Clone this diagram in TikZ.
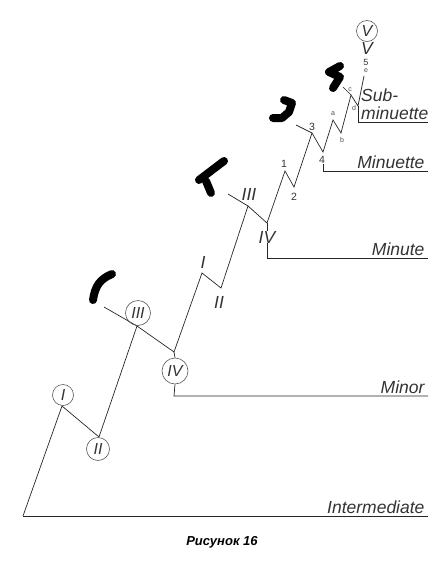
\documentclass[tikz,border=0pt]{standalone}
\usepackage{fontspec}
\setmainfont{Liberation Sans}
\begin{document}
\begin{tikzpicture}[x=1pt,y=-1pt,
  wave/.style={line width=0.7pt,draw=black!85},
  circ/.style={circle,draw=black!65,line width=0.6pt,inner sep=0pt,minimum size=#1},
  roman/.style={font=\fontsize{16}{16}\selectfont\itshape,text=black!80},
  degree/.style={font=\fontsize{17.5}{18}\selectfont\itshape,text=black!80},
  numlbl/.style={font=\fontsize{10.5}{10.5}\selectfont,text=black!80,inner sep=0pt},
  letlbl/.style={font=\fontsize{7}{7}\selectfont,text=black!70,inner sep=0pt},
  scrib/.style={line width=8pt,line cap=round,line join=round}]
  \useasboundingbox (0,0) rectangle (447,563);
  % wave points
  \coordinate (w0) at (23,516);
  \coordinate (w1) at (62,406);
  \coordinate (w2) at (99,437);
  \coordinate (w3) at (137,326);
  \coordinate (w4) at (174,352);
  \coordinate (t3) at (104,307);
  \coordinate (m1) at (202,273);
  \coordinate (m2) at (221,288);
  \coordinate (m3) at (248,206);
  \coordinate (m4) at (267,223);
  \coordinate (mt) at (228,194);
  \coordinate (n1) at (285,171);
  \coordinate (n2) at (294,187);
  \coordinate (n3) at (312,133);
  \coordinate (n4) at (323,152);
  \coordinate (nt) at (296,125);
  \coordinate (sa) at (333,120);
  \coordinate (sb) at (341,133);
  \coordinate (sc) at (351,95);
  \coordinate (sd) at (358,106);
  \coordinate (se) at (364,76);
  \coordinate (st) at (343,87);
  % degree lines end
  \coordinate (kInt) at (428,516);
  \coordinate (kMinor) at (174,396);
  \coordinate (kMinute) at (267,258);
  \coordinate (kMinuette) at (323,171);
  \coordinate (kSub) at (358,122);

  \draw[wave] (w0) -- (w1) -- (w2) -- (w3) -- (w4) -- (m1) -- (m2) -- (m3) -- (m4)
    -- (n1) -- (n2) -- (n3) -- (n4) -- (sa) -- (sb) -- (sc) -- (sd) -- (se);
  \draw[wave] (t3) -- (w3);
  \draw[wave] (mt) -- (m3);
  \draw[wave] (nt) -- (n3);
  \draw[wave] (st) -- (sc);

  % intermediate
  \node[circ=21pt,roman] (cI) at (63,395) {I};
  \node[circ=23pt,roman] (cII) at (98,449) {II};
  \node[circ=25pt,roman] (cIII) at (138,313) {III};
  \node[circ=26pt,roman] (cIV) at (175,371) {IV};
  \draw[wave] (w0) -- (kInt);
  \node[degree,anchor=base east] (lInt) at (428,513) {Intermediate};

  % minor
  \draw[wave] (w4) -- (cIV.north);
  \draw[wave] (cIV.south) -- (kMinor) -- (kMinor -| kInt);
  \node[degree,anchor=base east] (lMinor) at (428,393) {Minor};

  % minute
  \node[degree,inner sep=0pt] (mI) at (203,262) {I};
  \node[degree,inner sep=0pt] (mII) at (219,302) {II};
  \node[degree,inner sep=0pt] (mIII) at (249,194) {III};
  \node[degree,inner sep=0pt] (mIV) at (267,237) {IV};
  \draw[wave] (m4) -- (mIV.north);
  \draw[wave] (mIV.south) -- (kMinute) -- (kMinute -| kInt);
  \node[degree,anchor=base east] (lMinute) at (428,255) {Minute};

  % minuette
  \node[numlbl] (n1l) at (284,164) {1};
  \node[numlbl] (n2l) at (294,197) {2};
  \node[numlbl] (n3l) at (312,127) {3};
  \node[numlbl] (n4l) at (322,160) {4};
  \draw[wave] (n4l.south -| n4) -- (kMinuette) -- (kMinuette -| kInt);
  \node[degree,anchor=base east] (lMinuette) at (428,168) {Minuette};

  % sub-minuette
  \node[letlbl] (sal) at (333,114) {a};
  \node[letlbl] (sbl) at (342,140) {b};
  \node[letlbl] (scl) at (350,90) {c};
  \node[letlbl] (sdl) at (354,108) {d};
  \node[letlbl] (sel) at (366,71) {e};
  \node[numlbl,font=\fontsize{9}{9}\selectfont] (s5) at (366,62) {5};
  \node[degree,inner sep=0pt] (sV) at (367,48) {V};
  \node[circ=21pt,roman] (cV) at (367,31) {V};
  \draw[wave] (sd) -- (kSub) -- (kSub -| kInt);
  \node[degree,align=left,anchor=south west,inner sep=0pt] (lSub) at (361,120) {Sub-\\minuette};

  % hand marks
  \draw[scrib] (112,274) .. controls (100,279) and (95,286) .. (93,300);
  \draw[scrib] (224,161) -- (199,180);
  \draw[scrib] (206,181) -- (211,193);
  \draw[scrib] (284,100) -- (292,103) -- (289,112) -- (282,118) -- (273,118);
  \draw[scrib] (340,66) -- (329,72) -- (340,77) -- (333,88);

  \node[font=\fontsize{13}{13}\selectfont\bfseries\itshape] (cap) at (222,542) {Рисунок 16};
\end{tikzpicture}
\end{document}
